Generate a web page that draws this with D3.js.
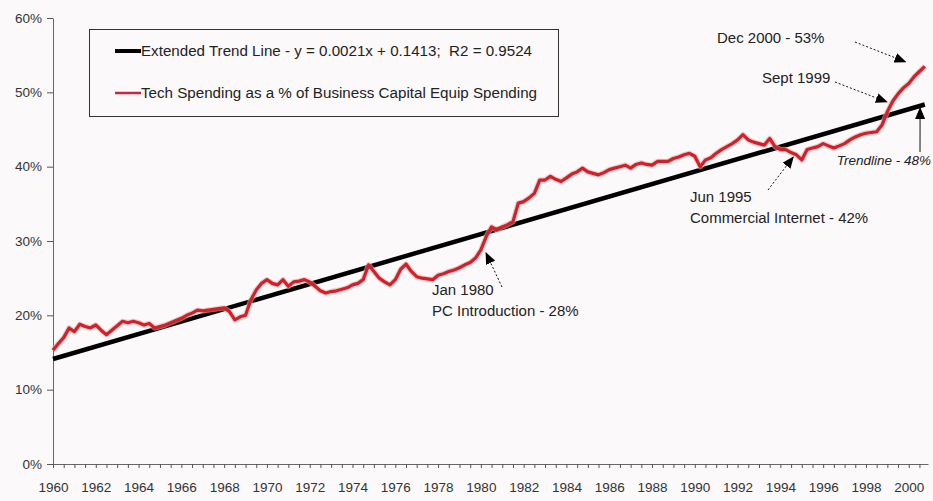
<!DOCTYPE html>
<html>
<head>
<meta charset="utf-8">
<script src="https://cdn.jsdelivr.net/npm/d3@7"></script>
<style>
  body { margin: 0; background: #fcf9fb; }
  svg { display: block; font-family: "Liberation Sans", Arial, sans-serif; }
</style>
</head>
<body>
<svg id="chart" width="933" height="501"></svg>
<script>
// quarterly values, 1960 Q1 .. 2000 Q4 (percent)
var startYear = 1960;
var techShare = [
  15.3, 16.2, 17.0, 18.3,   // 1960
  17.8, 18.8, 18.5, 18.3,
  18.7, 18.0, 17.4, 18.0,
  18.6, 19.2, 19.0, 19.2,
  19.0, 18.7, 18.9, 18.3,
  18.5, 18.7, 19.0, 19.3,   // 1965
  19.6, 20.0, 20.3, 20.7,
  20.6, 20.7, 20.8, 20.9,
  21.0, 20.5, 19.4, 19.8,
  20.0, 22.1, 23.4, 24.3,
  24.8, 24.3, 24.1, 24.8,   // 1970
  23.9, 24.5, 24.6, 24.8,
  24.5, 23.9, 23.3, 23.0,
  23.2, 23.3, 23.5, 23.7,
  24.1, 24.3, 24.8, 26.8,
  25.9, 25.0, 24.5, 24.1,   // 1975
  24.8, 26.2, 26.9, 25.9,
  25.2, 25.0, 24.9, 24.8,
  25.4, 25.6, 25.9, 26.1,
  26.4, 26.8, 27.1, 27.7,
  28.8, 30.6, 31.9, 31.5,   // 1980
  31.9, 32.2, 32.6, 35.1,
  35.3, 35.8, 36.4, 38.2,
  38.2, 38.7, 38.3, 38.0,
  38.5, 39.0, 39.3, 39.8,
  39.3, 39.1, 38.9, 39.2,   // 1985
  39.6, 39.8, 40.0, 40.2,
  39.8, 40.3, 40.5, 40.3,
  40.2, 40.7, 40.7, 40.7,
  41.1, 41.3, 41.6, 41.8,
  41.4, 40.0, 40.9, 41.2,   // 1990
  41.8, 42.3, 42.7, 43.1,
  43.6, 44.3, 43.6, 43.3,
  43.1, 42.9, 43.8, 42.7,
  42.3, 42.3, 41.9, 41.6,
  40.9, 42.3, 42.5, 42.7,   // 1995
  43.1, 42.8, 42.5, 42.8,
  43.1, 43.6, 44.0, 44.3,
  44.5, 44.6, 44.7, 45.6,
  47.4, 48.8, 49.8, 50.6,
  51.2, 52.1, 52.8, 53.5    // 2000
];

// extended trend line end points (percent)
var trendEnds = [
  { year: 1960, value: 14.13 },
  { year: 2000.75, value: 48.36 }
];

var yTicks = [0, 10, 20, 30, 40, 50, 60];
var xLabels = [1960, 1962, 1964, 1966, 1968, 1970, 1972, 1974, 1976, 1978, 1980,
               1982, 1984, 1986, 1988, 1990, 1992, 1994, 1996, 1998, 2000];

var legendLabels = [
  'Extended Trend Line - y = 0.0021x + 0.1413;  R2 = 0.9524',
  'Tech Spending as a % of Business Capital Equip Spending'
];

var noteTexts = [
  ['Dec 2000 - 53%'],
  ['Sept 1999'],
  ['Trendline - 48%'],
  ['Jun 1995', 'Commercial Internet - 42%'],
  ['Jan 1980', 'PC Introduction - 28%']
];
var noteTargets = [
  { year: 1999.85, value: 54.1 },
  { year: 1998.98, value: 48.7 },
  { year: 2000.53, value: 47.9 },
  { year: 1994.6, value: 41.3 },
  { year: 1980.24, value: 28.4 }
];

var series = techShare.map(function(v, i) {
  return { year: startYear + i / 4, value: v };
});

var svg = d3.select('#chart');

var x = d3.scaleLinear().domain([1960, 2000.9]).range([53, 928]);
var y = d3.scaleLinear().domain([0, 60]).range([464, 18]);

// the source picture is slightly stretched sideways
function widen(sel, k) {
	sel.each(function() {
		var w = this.getComputedTextLength();
		d3.select(this)
			.attr('textLength', w * k)
			.attr('lengthAdjust', 'spacingAndGlyphs');
	});
}

// axes
var xAxis = d3.axisBottom(x)
	.tickValues(d3.range(1960, 2000.9, 0.5))
	.tickSize(4)
	.tickSizeOuter(0)
	.tickPadding(14)
	.tickFormat(function(d) { return xLabels.indexOf(d) >= 0 ? d : ''; });

var yAxis = d3.axisLeft(y)
	.tickValues(yTicks)
	.tickSize(6)
	.tickSizeOuter(0)
	.tickPadding(5)
	.tickFormat(function(d) { return d + '%'; });

var gx = svg.append('g')
	.attr('transform', 'translate(0,' + y(0) + ')')
	.call(xAxis);
var gy = svg.append('g')
	.attr('transform', 'translate(' + x(1960) + ',0)')
	.call(yAxis);

[gx, gy].forEach(function(g) {
	g.select('.domain').attr('stroke', '#666');
	g.selectAll('.tick line').attr('stroke', '#555');
	g.selectAll('.tick text')
		.attr('fill', '#333')
		.style('font-size', '13.5px')
		.style('font-family', '"Liberation Sans", Arial, sans-serif');
});

// lines
var line = d3.line()
	.x(function(d) { return x(d.year); })
	.y(function(d) { return y(d.value); });

svg.append('path')
	.datum(trendEnds)
	.attr('d', line)
	.attr('fill', 'none')
	.attr('stroke', '#000')
	.attr('stroke-width', 4.5);

svg.append('path')
	.datum(series)
	.attr('d', line)
	.attr('fill', 'none')
	.attr('stroke', '#f2a8a8')
	.attr('stroke-width', 5.5)
	.attr('stroke-linejoin', 'round')
	.attr('opacity', 0.6);

svg.append('path')
	.datum(series)
	.attr('d', line)
	.attr('fill', 'none')
	.attr('stroke', '#d0202a')
	.attr('stroke-width', 3.2)
	.attr('stroke-linejoin', 'round');

// legend
var legend = svg.append('g');
legend.append('rect')
	.attr('x', 89.5)
	.attr('y', 29.5)
	.attr('width', 469)
	.attr('height', 87)
	.attr('fill', 'none')
	.attr('stroke', '#333');

var legendColors = ['#000', '#c8283a'];
var legendWidths = [4, 2.5];
var legendSpan = [391, 396];
legendLabels.forEach(function(label, i) {
	var ly = 51 + i * 42;
	legend.append('line')
		.attr('x1', 115).attr('x2', 141)
		.attr('y1', ly).attr('y2', ly)
		.attr('stroke', legendColors[i])
		.attr('stroke-width', legendWidths[i]);
	legend.append('text')
		.attr('x', 141)
		.attr('y', ly + 5)
		.attr('fill', '#222')
		.attr('textLength', legendSpan[i])
		.attr('lengthAdjust', 'spacingAndGlyphs')
		.style('font-size', '14px')
		.style('white-space', 'pre')
		.text(label);
});

// annotations
svg.append('defs').append('marker')
	.attr('id', 'head')
	.attr('markerUnits', 'userSpaceOnUse')
	.attr('markerWidth', 12)
	.attr('markerHeight', 10)
	.attr('refX', 11)
	.attr('refY', 5)
	.attr('orient', 'auto')
	.append('path')
	.attr('d', 'M0,0 L12,5 L0,10 Z')
	.attr('fill', '#000');

// label positions and arrow tails, in pixels
var noteLayout = [
	{ tx: 717, ty: 43, tail: [855, 42], dash: '2,2', italic: false, size: 14, k: 1.07 },
	{ tx: 762, ty: 83, tail: [835, 82], dash: '2,2', italic: false, size: 14, k: 1.07 },
	{ tx: 838, ty: 165, tail: [920, 152], dash: null, italic: true, size: 13.5, k: 1 },
	{ tx: 690, ty: 202, tail: [768, 190], dash: '2,2', italic: false, size: 14, k: 1.07 },
	{ tx: 432, ty: 295, tail: [502, 287], dash: '2,2', italic: false, size: 14, k: 1.07 }
];

noteTexts.forEach(function(lines, i) {
	var lay = noteLayout[i];
	var t = noteTargets[i];
	svg.append('line')
		.attr('x1', lay.tail[0]).attr('y1', lay.tail[1])
		.attr('x2', x(t.year)).attr('y2', y(t.value))
		.attr('stroke', '#111')
		.attr('stroke-width', 1)
		.attr('stroke-dasharray', lay.dash)
		.attr('marker-end', 'url(#head)');
	var txt = svg.append('text')
		.attr('fill', '#222')
		.style('font-size', lay.size + 'px')
		.style('font-style', lay.italic ? 'italic' : 'normal');
	lines.forEach(function(s, j) {
		txt.append('tspan')
			.attr('x', lay.tx)
			.attr('y', lay.ty + j * 21)
			.text(s);
	});
	if (lay.k !== 1) widen(txt.selectAll('tspan'), lay.k);
	// keep the label inside the picture
	var box = txt.node().getBBox();
	if (box.x + box.width > 931) {
		txt.selectAll('tspan').attr('x', lay.tx - (box.x + box.width - 931));
	}
});
</script>
</body>
</html>
